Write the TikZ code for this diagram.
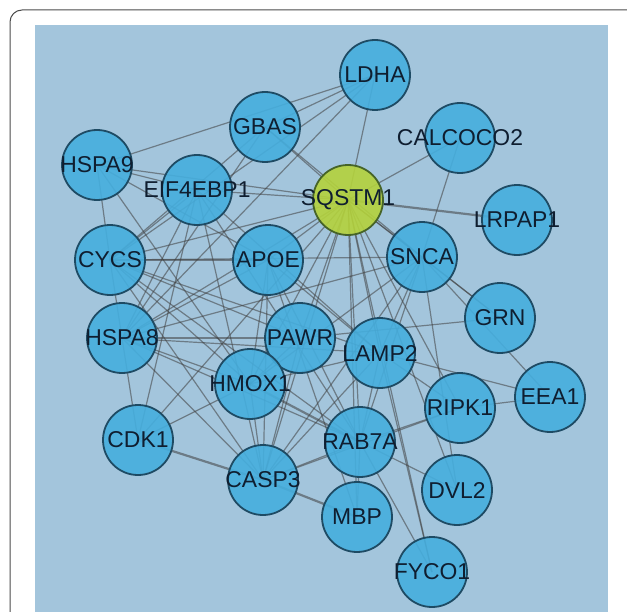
\documentclass[tikz,border=0pt]{standalone}
\usepackage{fontspec}
\setmainfont{Liberation Sans}
\definecolor{bgblue}{RGB}{163,197,220}
\definecolor{nodefill}{RGB}{69,174,222}
\definecolor{nodeline}{RGB}{30,75,100}
\definecolor{hubfill}{RGB}{180,210,60}
\definecolor{hubline}{RGB}{70,100,40}
\definecolor{labeltext}{RGB}{15,30,48}
\begin{document}
\begin{tikzpicture}[x=1bp,y=-1bp,
  edge/.style={draw=black!75, line width=1.2bp, draw opacity=0.55},
  thick edge/.style={edge, line width=2.2bp},
  prot/.style={circle, minimum size=70bp, inner sep=0pt, line width=1.8bp,
    draw=nodeline, fill=nodefill, fill opacity=0.9,
    label={[text=labeltext, font=\fontsize{23}{24}\selectfont]center:#1}},
  hub/.style={prot=#1, fill=hubfill, draw=hubline}]
\useasboundingbox (0,0) rectangle (627,612);
\fill[white] (0,0) rectangle (627,612);
\draw[black!70, line width=1bp] (10,612) -- (10,22) arc[start angle=180, end angle=270, radius=12] -- (627,10);
\fill[bgblue] (35,25) rectangle (608,612);
% node coordinates
\coordinate (pLDHA) at (375,75);
\coordinate (pGBAS) at (265,127);
\coordinate (pCALCOCO2) at (460,138);
\coordinate (pHSPA9) at (97,165);
\coordinate (pEIF4EBP1) at (197,190);
\coordinate (pSQSTM1) at (348,200);
\coordinate (pLRPAP1) at (517,220);
\coordinate (pCYCS) at (110,260);
\coordinate (pAPOE) at (268,260);
\coordinate (pSNCA) at (422,257);
\coordinate (pGRN) at (500,318);
\coordinate (pHSPA8) at (122,338);
\coordinate (pPAWR) at (300,338);
\coordinate (pLAMP2) at (380,353);
\coordinate (pHMOX1) at (250,384);
\coordinate (pEEA1) at (550,397);
\coordinate (pRIPK1) at (460,408);
\coordinate (pCDK1) at (138,440);
\coordinate (pRAB7A) at (360,442);
\coordinate (pCASP3) at (263,480);
\coordinate (pDVL2) at (457,490);
\coordinate (pMBP) at (357,517);
\coordinate (pFYCO1) at (432,572);
% edges
\foreach \a/\b in {SQSTM1/LDHA, SQSTM1/GBAS, SQSTM1/CALCOCO2, SQSTM1/EIF4EBP1, SQSTM1/HSPA9,
  SQSTM1/CYCS, SQSTM1/APOE, SQSTM1/SNCA, SQSTM1/HSPA8, SQSTM1/PAWR, SQSTM1/LAMP2, SQSTM1/HMOX1,
  SQSTM1/CASP3, SQSTM1/RAB7A, SQSTM1/MBP, SQSTM1/DVL2, SQSTM1/FYCO1, SQSTM1/RIPK1, SQSTM1/GRN, SQSTM1/CDK1,
  HSPA9/LDHA, HSPA9/EIF4EBP1, HSPA9/CYCS, HSPA9/APOE, HSPA9/HMOX1,
  GBAS/LDHA, GBAS/CYCS, GBAS/SNCA, GBAS/HSPA8, LDHA/CYCS, LDHA/HSPA8,
  EIF4EBP1/CYCS, EIF4EBP1/HSPA8, EIF4EBP1/CASP3, EIF4EBP1/RAB7A, EIF4EBP1/LAMP2, EIF4EBP1/CDK1,
  CYCS/APOE, CYCS/SNCA, CYCS/HSPA8, CYCS/CASP3, CYCS/HMOX1, CYCS/RAB7A, CYCS/LAMP2, CYCS/PAWR,
  APOE/LAMP2, APOE/CASP3, APOE/HSPA8, APOE/RAB7A, APOE/MBP, APOE/HMOX1,
  HSPA8/CDK1, HSPA8/CASP3, HSPA8/RAB7A, HSPA8/LAMP2, HSPA8/SNCA, HSPA8/HMOX1, HSPA8/PAWR,
  SNCA/CALCOCO2, SNCA/GRN, SNCA/CASP3, SNCA/HMOX1, SNCA/LAMP2, SNCA/RAB7A, SNCA/EEA1, SNCA/DVL2,
  LAMP2/EEA1, LAMP2/RIPK1, LAMP2/RAB7A, LAMP2/FYCO1, LAMP2/CASP3, LAMP2/HMOX1,
  RIPK1/EEA1, RIPK1/RAB7A, RIPK1/CASP3, PAWR/GRN,
  RAB7A/CASP3, RAB7A/MBP, RAB7A/DVL2, RAB7A/FYCO1,
  CASP3/HMOX1, CASP3/PAWR, HMOX1/PAWR, CDK1/HMOX1}
  \draw[edge] (p\a) -- (p\b);
\foreach \a/\b in {SQSTM1/LRPAP1, HMOX1/RAB7A, CASP3/MBP, CASP3/CDK1}
  \draw[thick edge] (p\a) -- (p\b);
% nodes
\foreach \n in {LDHA, GBAS, CALCOCO2, HSPA9, EIF4EBP1, LRPAP1, CYCS, APOE, SNCA, GRN, HSPA8, PAWR,
  LAMP2, HMOX1, EEA1, RIPK1, CDK1, RAB7A, CASP3, DVL2, MBP, FYCO1}
  \node[prot=\n] (\n) at (p\n) {};
\node[hub=SQSTM1] (SQSTM1) at (pSQSTM1) {};
\end{tikzpicture}
\end{document}
